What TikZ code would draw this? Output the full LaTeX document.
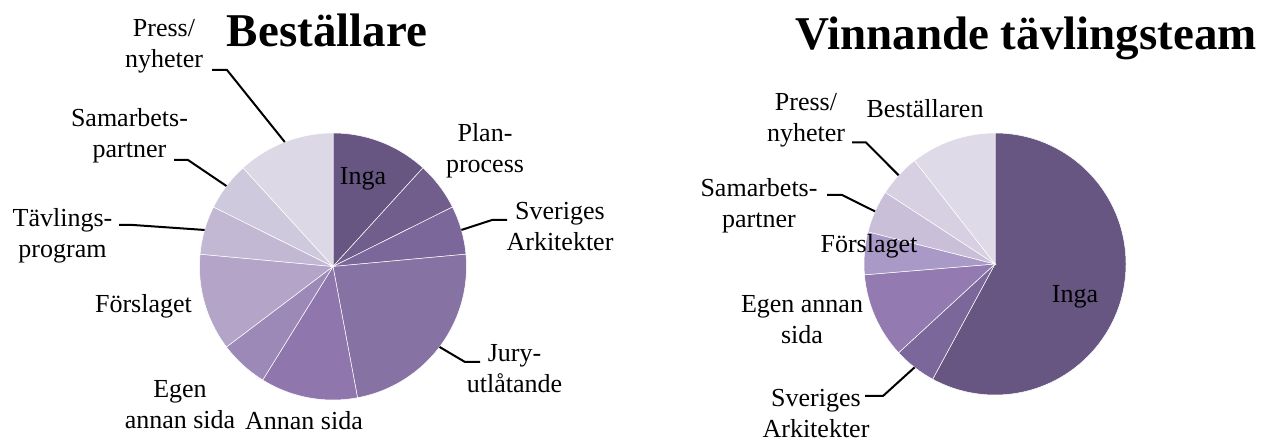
\documentclass[tikz,border=0pt]{standalone}
\usepackage{fontspec}
\setmainfont{Liberation Serif}
\usepackage{xcolor}
\usepackage{tikz}
\usetikzlibrary{calc}
\definecolor{inga}{HTML}{665681}
\definecolor{planproc}{HTML}{725E8C}
\definecolor{sva}{HTML}{7B6799}
\definecolor{jury}{HTML}{8672A3}
\definecolor{annan}{HTML}{8F77AD}
\definecolor{egen}{HTML}{9C89B8}
\definecolor{forslag}{HTML}{B3A4C8}
\definecolor{tavling}{HTML}{C2B8D4}
\definecolor{samarb}{HTML}{CFC9DE}
\definecolor{press}{HTML}{DCD8E6}
\definecolor{egenw}{HTML}{937AB0}
\definecolor{forslagw}{HTML}{A999C6}
\definecolor{samarbw}{HTML}{C9BFD9}
\definecolor{pressw}{HTML}{D6D0E2}
\definecolor{bestw}{HTML}{DFDAE8}
\tikzset{
  title/.style={font=\fontsize{47}{56}\selectfont\bfseries, inner sep=0pt},
  lbl/.style={font=\fontsize{26}{31}\selectfont, align=center, inner sep=0pt},
  slice/.style={draw=white, line width=0.5pt},
  leader/.style={line width=2pt, draw=black},
}

\begin{document}
\begin{tikzpicture}[x=1pt, y=1pt]
  \useasboundingbox (0,0) rectangle (1264,443);

  % left pie: Beställare
  \coordinate (L) at (333,176.5);
  \foreach \a/\b/\c in {90/47.65/inga, 47.65/26.47/planproc, 26.47/5.29/sva,
      5.29/-79.41/jury, -79.41/-121.76/annan, -121.76/-142.94/egen,
      -142.94/-185.29/forslag, -185.29/-206.47/tavling, -206.47/-227.65/samarb,
      -227.65/-270/press}
    \filldraw[slice, fill=\c] (L) -- ++(\a:133.5) arc[start angle=\a, end angle=\b, radius=133.5] -- cycle;

  % right pie: Vinnande tävlingsteam
  \coordinate (R) at (995,179);
  \foreach \a/\b/\c in {90/-118.42/inga, -118.42/-137.37/sva, -137.37/-175.26/egenw,
      -175.26/-194.21/forslagw, -194.21/-213.16/samarbw, -213.16/-232.11/pressw,
      -232.11/-270/bestw}
    \filldraw[slice, fill=\c] (R) -- ++(\a:131) arc[start angle=\a, end angle=\b, radius=131] -- cycle;

  % titles
  \node[title, anchor=base] (tBest) at (327,396) {Beställare};
  \node[title, anchor=base] (tVinn) at (1026,393) {Vinnande tävlingsteam};

  % left labels
  \node[lbl, anchor=base] (lInga) at (363,258) {Inga};
  \node[lbl] (lPlan) at (485,292) {Plan-\\process};
  \node[lbl] (lSvA) at (560,216) {Sveriges\\Arkitekter};
  \node[lbl] (lJury) at (514.5,74.5) {Jury-\\utlåtande};
  \node[lbl, anchor=base] (lAnnan) at (304,13) {Annan sida};
  \node[lbl] (lEgen) at (180,38) {Egen\\annan sida};
  \node[lbl, anchor=base] (lForsl) at (143.5,130) {Förslaget};
  \node[lbl] (lTavl) at (62.5,207.3) {Tävlings-\\program};
  \node[lbl] (lSamarb) at (129.5,307) {Samarbets-\\partner};
  \node[lbl] (lPress) at (164,396.5) {Press/\\nyheter};

  % right labels
  \node[lbl, anchor=base] (rInga) at (1075,140) {Inga};
  \node[lbl, anchor=base] (rBest) at (925,325) {Beställaren};
  \node[lbl] (rPress) at (806,323) {Press/\\nyheter};
  \node[lbl] (rSamarb) at (759,237) {Samarbets-\\partner};
  \node[lbl, anchor=base] (rForsl) at (869,190) {Förslaget};
  \node[lbl] (rEgen) at (802,123) {Egen annan\\sida};
  \node[lbl] (rSvA) at (816,29) {Sveriges\\Arkitekter};

  % leader ends
  \coordinate (lPressS) at (212,373);
  \coordinate (lPressE) at ($(L)+(111.18:133.5)$);
  \coordinate (lSamarbS) at (174,283);
  \coordinate (lSamarbE) at ($(L)+(142.94:133.5)$);
  \coordinate (lTavlS) at (119,218);
  \coordinate (lTavlE) at ($(L)+(164.12:133.5)$);
  \coordinate (lSvAS) at (507,223);
  \coordinate (lSvAE) at ($(L)+(15.88:133.5)$);
  \coordinate (lJuryS) at (480,81);
  \coordinate (lJuryE) at ($(L)+(-37.06:133.5)$);
  \coordinate (rPressS) at (852,300.5);
  \coordinate (rPressE) at ($(R)+(137.37:131)$);
  \coordinate (rSamarbS) at (827,248);
  \coordinate (rSamarbE) at ($(R)+(156.32:131)$);
  \coordinate (rSvAS) at (865,47);
  \coordinate (rSvAE) at ($(R)+(-127.89:131)$);

  \draw[leader] (lPressS) -- ++(15,0) -- (lPressE);
  \draw[leader] (lSamarbS) -- ++(14,0) -- (lSamarbE);
  \draw[leader] (lTavlS) -- ++(14,0) -- (lTavlE);
  \draw[leader] (lSvAS) -- ++(-15,0) -- (lSvAE);
  \draw[leader] (lJuryS) -- ++(-15,0) -- (lJuryE);
  \draw[leader] (rPressS) -- ++(14,0) -- (rPressE);
  \draw[leader] (rSamarbS) -- ++(15,0) -- (rSamarbE);
  \draw[leader] (rSvAS) -- ++(18,0) -- (rSvAE);
\end{tikzpicture}
\end{document}
